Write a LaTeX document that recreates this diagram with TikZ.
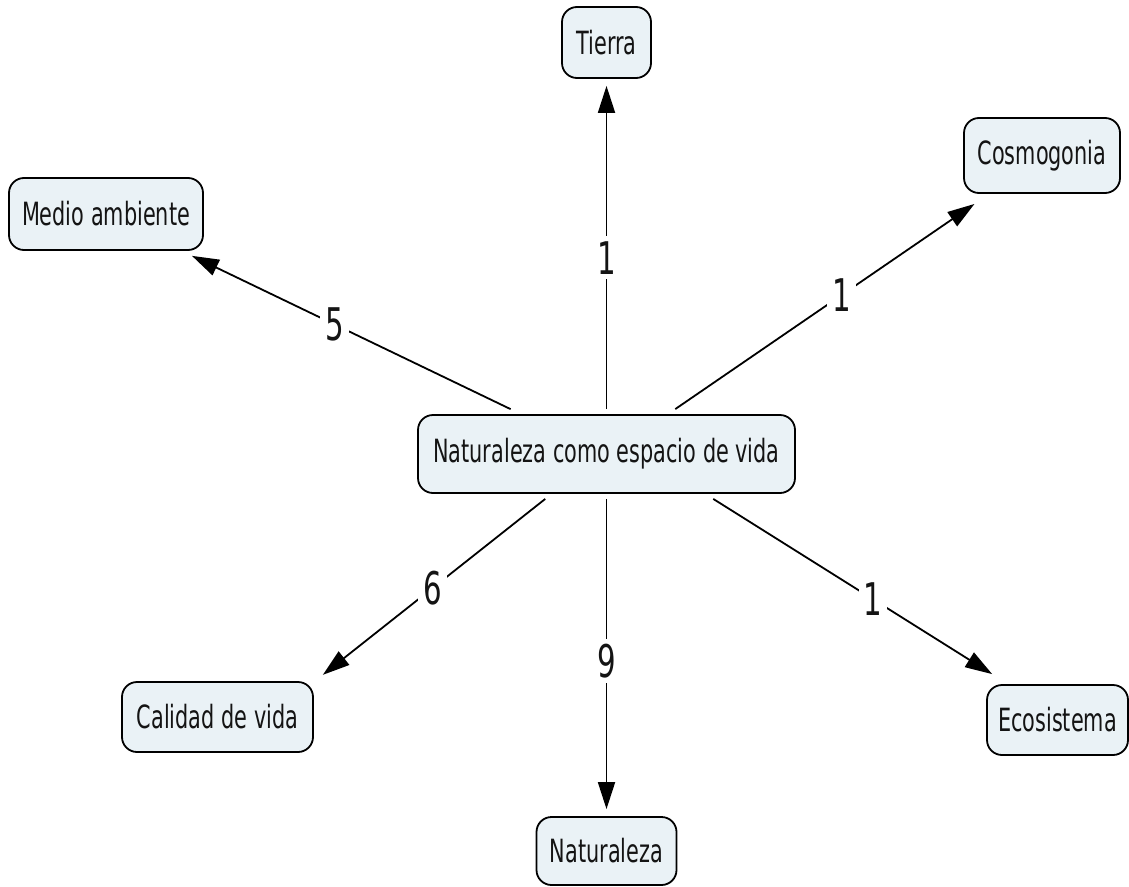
\documentclass[tikz,border=0pt]{standalone}
\usepackage{fontspec}
\usetikzlibrary{arrows.meta}
\newfontfamily\mapfont[FakeStretch=0.65]{DejaVu Sans}
\definecolor{conceptfill}{RGB}{234,242,246}
\definecolor{inkgray}{RGB}{20,20,20}
\begin{document}
\begin{tikzpicture}[x=1pt,y=-1pt,
  concept/.style={draw=black, line width=1.8pt, fill=conceptfill,
    rounded corners=15pt, minimum height=72pt, inner sep=0pt,
    font=\mapfont\fontsize{32}{38}\selectfont, text=inkgray},
  link/.style={line width=1.8pt, -{Triangle[length=27pt,width=17pt]},
    shorten <=5pt},
  count/.style={fill=white, inner sep=5pt,
    font=\mapfont\fontsize{45}{52}\selectfont, text=inkgray}]

\useasboundingbox (0,0) rectangle (1129,886);

% concepts
\node[concept, minimum width=377pt, minimum height=78pt] (hub) at (606.5,454)
  {Naturaleza como espacio de vida};
\node[concept, minimum width=89pt, minimum height=71pt] (tierra) at (606.5,42.5) {Tierra};
\node[concept, minimum width=156pt, minimum height=75pt] (cosmo) at (1042,155.5) {Cosmogonia};
\node[concept, minimum width=194pt] (medio) at (106,214) {Medio ambiente};
\node[concept, minimum width=191pt, minimum height=70pt] (calidad) at (217.5,717) {Calidad de vida};
\node[concept, minimum width=140pt, minimum height=68pt] (natur) at (606.5,851) {Naturaleza};
\node[concept, minimum width=141pt, minimum height=70pt] (eco) at (1057.5,720) {Ecosistema};

% links with their counts
\draw[link, shorten >=7pt] (hub.north) -- node[count, pos=0.466] {1} (tierra.south);
\draw[link, shorten <=8.9pt, shorten >=17.8pt] (hub.33.6) -- node[count, pos=0.541] {1} (cosmo.216.2);
\draw[link, shorten <=11.4pt, shorten >=11.4pt] (hub.155.15) -- node[count, pos=0.549] {5} (medio.334.9);
\draw[link, shorten <=8.1pt, shorten >=11.4pt] (hub.216.3) -- node[count, pos=0.5] {6} (calidad.20.5);
\draw[link, shorten >=7pt] (hub.south) -- node[count, pos=0.52] {9} (natur.north);
\draw[link, shorten <=9.4pt, shorten >=18.8pt] (hub.338.2) -- node[count, pos=0.554] {1} (eco.144.2);
\end{tikzpicture}
\end{document}
